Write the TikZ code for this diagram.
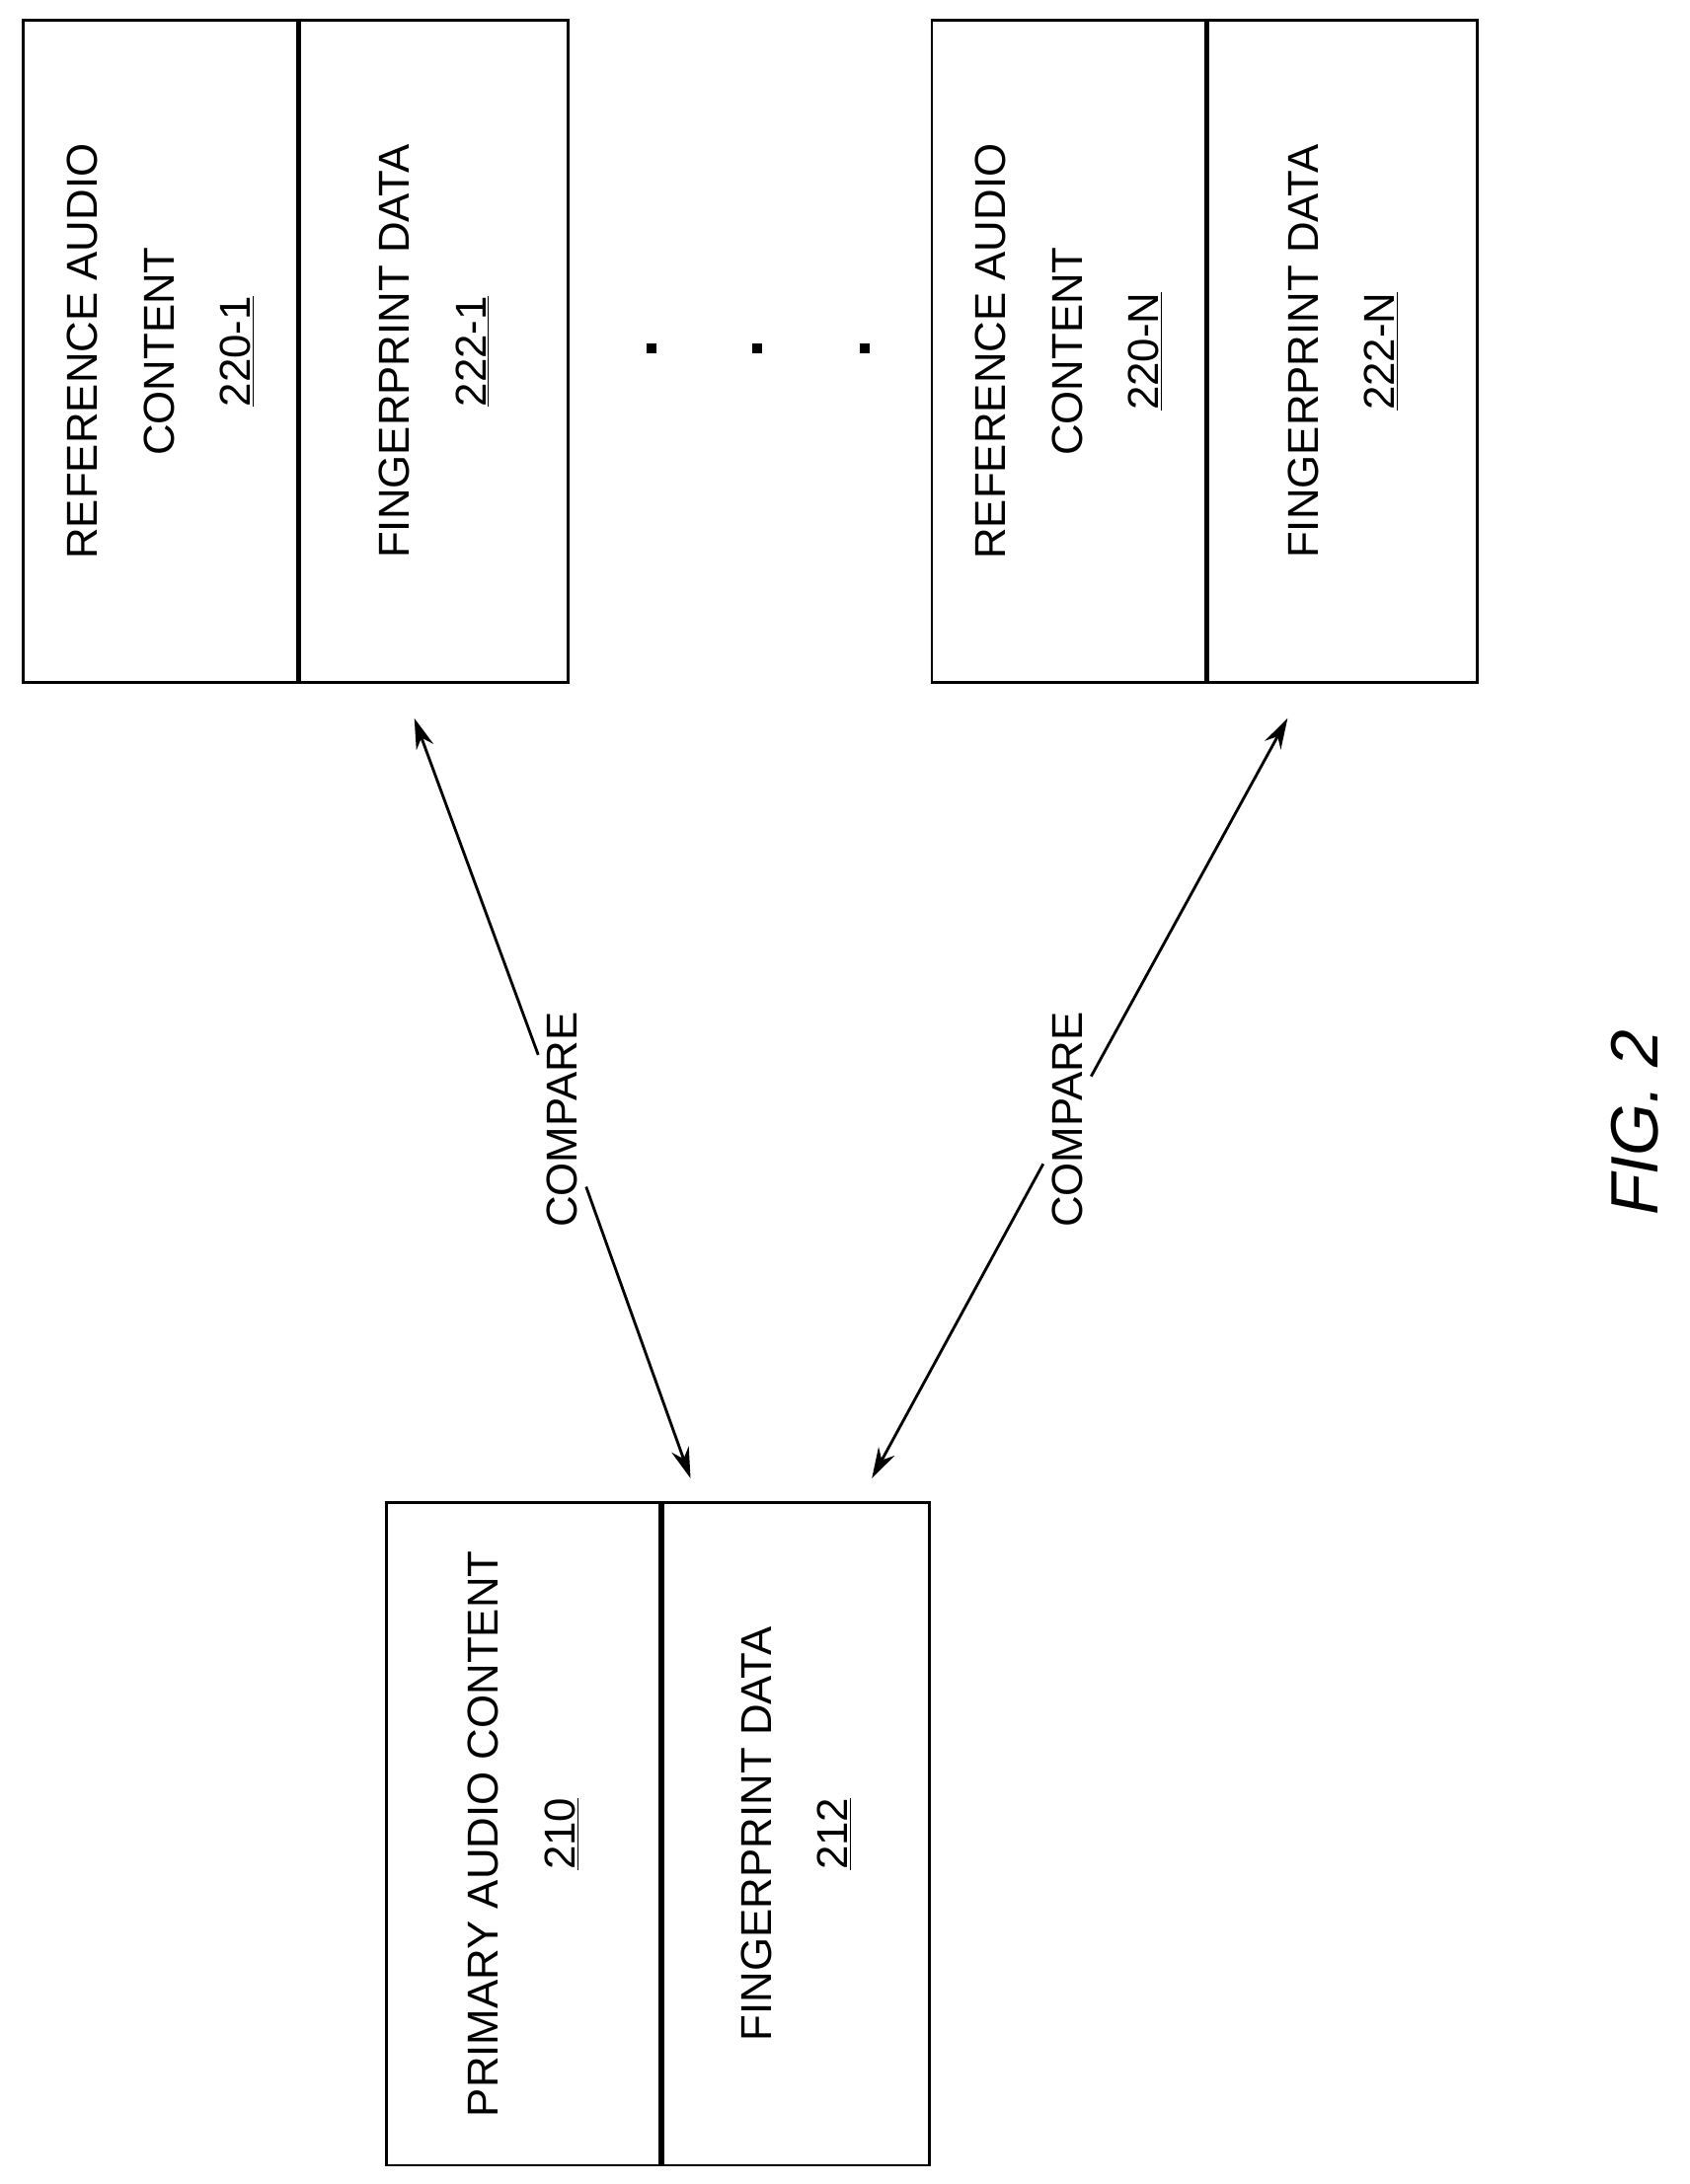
\documentclass[tikz,border=0pt]{standalone}
\usepackage{fontspec}
\setmainfont{Liberation Sans}
\usetikzlibrary{arrows.meta}
\tikzset{
  cell/.style={rectangle, draw, line width=2pt, rotate=90, minimum width=475pt,
    minimum height=#1, align=center, inner sep=0pt,
    font=\fontsize{31}{55}\selectfont},
  cmp/.style={rotate=90, font=\fontsize{31}{40}\selectfont, fill=white, inner sep=6pt},
  link/.style={line width=2pt, -{Stealth[length=22pt,width=13pt]}},
}
\begin{document}
\begin{tikzpicture}[x=1pt, y=-1pt]
      \useasboundingbox (0,0) rectangle (1211,1566);
      \node[cell=197pt] (R1) at (115,252) {REFERENCE AUDIO\\CONTENT\\\underline{220-1}};
      \node[cell=192pt] (F1) at (311,252) {FINGERPRINT DATA\\\underline{222-1}};
      \node[cell=196pt] (RN) at (766,252) {REFERENCE AUDIO\\CONTENT\\\underline{220-N}};
      \node[cell=193pt] (FN) at (962.5,252) {FINGERPRINT DATA\\\underline{222-N}};
      \node[cell=196pt] (P) at (375,1315) {PRIMARY AUDIO CONTENT\\\underline{210}};
      \node[cell=191pt] (PF) at (570.5,1315) {FINGERPRINT DATA\\\underline{212}};
      \foreach \x/\n in {467/d1,543/d2,620/d3}
        \node[rectangle, fill, inner sep=0pt, minimum size=7pt] (\n) at (\x,250) {};
      \coordinate (A1) at (297,515);
      \coordinate (B1) at (495,1060);
      \coordinate (A2) at (923,515);
      \coordinate (B2) at (625,1060);
      \node[cmp] (C1) at (403,803) {COMPARE};
      \node[cmp] (C2) at (765,803) {COMPARE};
      \draw[link] (C1) -- (A1);
      \draw[link] (C1) -- (B1);
      \draw[link] (C2) -- (A2);
      \draw[link] (C2) -- (B2);
      \node[rotate=90, font=\itshape\fontsize{48}{50}\selectfont] (fig) at (1172,805) {FIG. 2};
   \end{tikzpicture}
\end{document}
